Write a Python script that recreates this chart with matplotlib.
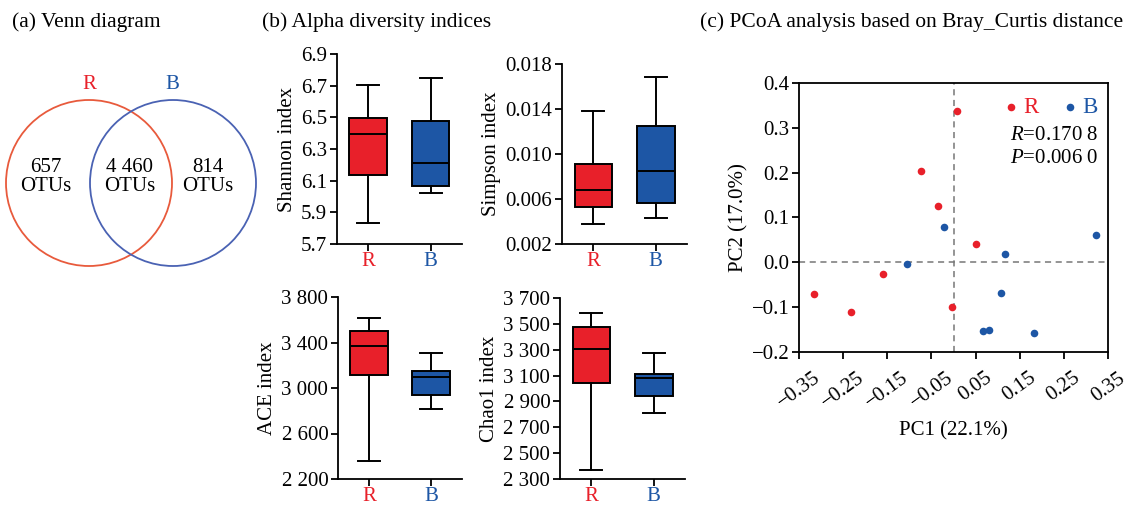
import numpy as np
import matplotlib
matplotlib.use("Agg")
import matplotlib.pyplot as plt
from matplotlib.patches import Circle
from matplotlib.ticker import FuncFormatter

plt.rcParams['font.family'] = ['Liberation Serif', 'DejaVu Serif']
plt.rcParams['mathtext.fontset'] = 'custom'
plt.rcParams['mathtext.rm'] = 'Liberation Serif'
plt.rcParams['mathtext.it'] = 'Liberation Serif:italic'
plt.rcParams['font.size'] = 15
plt.rcParams['axes.linewidth'] = 1.3

# ---- data ----
groups = ['R', 'B']
venn_counts = [657, 4460, 814]   # R only, shared, B only

# box stats: whislo, q1, median, q3, whishi
shannon_R = [5.833, 6.136, 6.394, 6.495, 6.706]
shannon_B = [6.020, 6.067, 6.210, 6.478, 6.748]
simpson_R = [0.00381, 0.00527, 0.00684, 0.00909, 0.01384]
simpson_B = [0.00434, 0.00562, 0.00853, 0.01251, 0.01684]
ace_R = [2358, 3117, 3371, 3502, 3616]
ace_B = [2813, 2942, 3099, 3149, 3307]
chao1_R = [2367, 3042, 3307, 3477, 3584]
chao1_B = [2811, 2942, 3084, 3109, 3274]

pc1_R = [-0.316, -0.233, -0.160, -0.073, -0.034, 0.007, 0.050, -0.003]
pc2_R = [-0.070, -0.110, -0.026, 0.204, 0.126, 0.338, 0.041, -0.100]
pc1_B = [-0.106, -0.022, 0.116, 0.108, 0.066, 0.080, 0.183, 0.322]
pc2_B = [-0.004, 0.078, 0.019, -0.068, -0.154, -0.150, -0.158, 0.062]
anosim_R = "0.170 8"
anosim_P = "0.006 0"

red = '#E8202A'
blue = '#1D56A5'
venn_red = '#E85A3C'
venn_blue = '#4A62B3'

W, H = 1128, 505
fig = plt.figure(figsize=(W / 100, H / 100), dpi=100)


def px_axes(x0, y0, x1, y1):
    # axes from pixel box (top-left origin)
    return fig.add_axes([x0 / W, 1 - y1 / H, (x1 - x0) / W, (y1 - y0) / H])


def minus(s):
    return s.replace('-', '\u2212')


# titles
fig.text(12 / W, 1 - 22 / H, '(a) Venn diagram', va='center', ha='left', fontsize=15.5)
fig.text(262 / W, 1 - 22 / H, '(b) Alpha diversity indices', va='center', ha='left', fontsize=15.5)
fig.text(700 / W, 1 - 22 / H, '(c) PCoA analysis based on Bray_Curtis distance',
         va='center', ha='left', fontsize=15.5)

# ---- (a) Venn ----
ax = px_axes(0, 60, 260, 280)
ax.set_xlim(0, 260)
ax.set_ylim(280, 60)
ax.axis('off')
ax.add_patch(Circle((89, 183), 83, fill=False, ec=venn_red, lw=1.3))
ax.add_patch(Circle((173, 183), 83, fill=False, ec=venn_blue, lw=1.3))
ax.text(89, 84, groups[0], color=red, ha='center', va='center')
ax.text(172, 84, groups[1], color=blue, ha='center', va='center')
for xc, n in zip([46, 130, 208], venn_counts):
    lab = f"{n:,}".replace(',', ' ')
    ax.text(xc, 177, lab + '\nOTUs', ha='center', va='center', linespacing=1.0)


# ---- (b) box plots ----
def box_panel(ax, r_stats, b_stats, ylim, ticks, fmt, ylabel):
    stats = []
    for name, s in zip(groups, [r_stats, b_stats]):
        stats.append(dict(label=name, whislo=s[0], q1=s[1], med=s[2], q3=s[3],
                          whishi=s[4], fliers=[]))
    lw = 1.4
    bp = ax.bxp(stats, positions=[1, 2], widths=0.6, capwidths=0.35, patch_artist=True,
                showfliers=False,
                boxprops=dict(edgecolor='black', linewidth=lw),
                medianprops=dict(color='black', linewidth=lw),
                whiskerprops=dict(color='black', linewidth=lw),
                capprops=dict(color='black', linewidth=lw))
    for patch, c in zip(bp['boxes'], [red, blue]):
        patch.set_facecolor(c)
    ax.set_xlim(0.5, 2.5)
    ax.set_ylim(*ylim)
    ax.set_yticks(ticks)
    ax.yaxis.set_major_formatter(FuncFormatter(fmt))
    ax.spines['top'].set_visible(False)
    ax.spines['right'].set_visible(False)
    ax.tick_params(direction='out', length=5, width=1.3, labelsize=15, pad=2)
    ax.tick_params(axis='x', pad=1)
    for t, c in zip(ax.get_xticklabels(), [red, blue]):
        t.set_color(c)
    ax.set_ylabel(ylabel, fontsize=15, labelpad=3)


thousands = lambda v, p: f"{v:,.0f}".replace(',', ' ')

ax = px_axes(337, 54, 462, 244)
box_panel(ax, shannon_R, shannon_B, (5.7, 6.9), np.arange(5.7, 6.91, 0.2),
          lambda v, p: f"{v:.1f}", 'Shannon index')
ax = px_axes(562, 64, 687, 244)
box_panel(ax, simpson_R, simpson_B, (0.002, 0.018), np.arange(0.002, 0.0181, 0.004),
          lambda v, p: f"{v:.3f}", 'Simpson index')
ax = px_axes(338, 297, 462, 479)
box_panel(ax, ace_R, ace_B, (2200, 3800), np.arange(2200, 3801, 400), thousands, 'ACE index')
ax = px_axes(560, 298, 685, 479)
box_panel(ax, chao1_R, chao1_B, (2300, 3700), np.arange(2300, 3701, 200), thousands, 'Chao1 index')

# ---- (c) PCoA ----
ax = px_axes(799, 83, 1108, 352)
ax.axhline(0, color='#777777', lw=1.1, ls=(0, (4, 3)), zorder=1)
ax.axvline(0, color='#777777', lw=1.1, ls=(0, (4, 3)), zorder=1)
hr = ax.scatter(pc1_R, pc2_R, s=30, color=red, label=groups[0], zorder=3, linewidths=0)
hb = ax.scatter(pc1_B, pc2_B, s=30, color=blue, label=groups[1], zorder=3, linewidths=0)
ax.set_xlim(-0.35, 0.35)
ax.set_ylim(-0.2, 0.4)
ax.set_xticks(np.arange(-0.35, 0.351, 0.1))
ax.set_yticks(np.arange(-0.2, 0.401, 0.1))
ax.xaxis.set_major_formatter(FuncFormatter(lambda v, p: minus(f"{v:.2f}")))
ax.yaxis.set_major_formatter(FuncFormatter(lambda v, p: minus(f"{v + 0:.1f}")))
ax.tick_params(direction='out', length=5, width=1.3, labelsize=15, pad=2)
ax.tick_params(axis='x', pad=7)
for t in ax.get_xticklabels():
    t.set_rotation(36)
    t.set_ha('center')
ax.set_xlabel('PC1 (22.1%)', fontsize=15, labelpad=6)
ax.set_ylabel('PC2 (17.0%)', fontsize=15, labelpad=2)
leg = ax.legend(handles=[hr, hb], loc='upper right', ncol=2, frameon=False,
                scatterpoints=1, handlelength=0.5, handletextpad=0.3,
                columnspacing=1.1, borderaxespad=0.2,
                fontsize=16.5, bbox_to_anchor=(1.012, 1.0))
for t, c in zip(leg.get_texts(), [red, blue]):
    t.set_color(c)
ax.text(0.97, 0.788, r'$\mathit{R}$=' + anosim_R, transform=ax.transAxes,
        ha='right', va='baseline', fontsize=15)
ax.text(0.97, 0.703, r'$\mathit{P}$=' + anosim_P, transform=ax.transAxes,
        ha='right', va='baseline', fontsize=15)

fig.savefig('out.png', dpi=100)
